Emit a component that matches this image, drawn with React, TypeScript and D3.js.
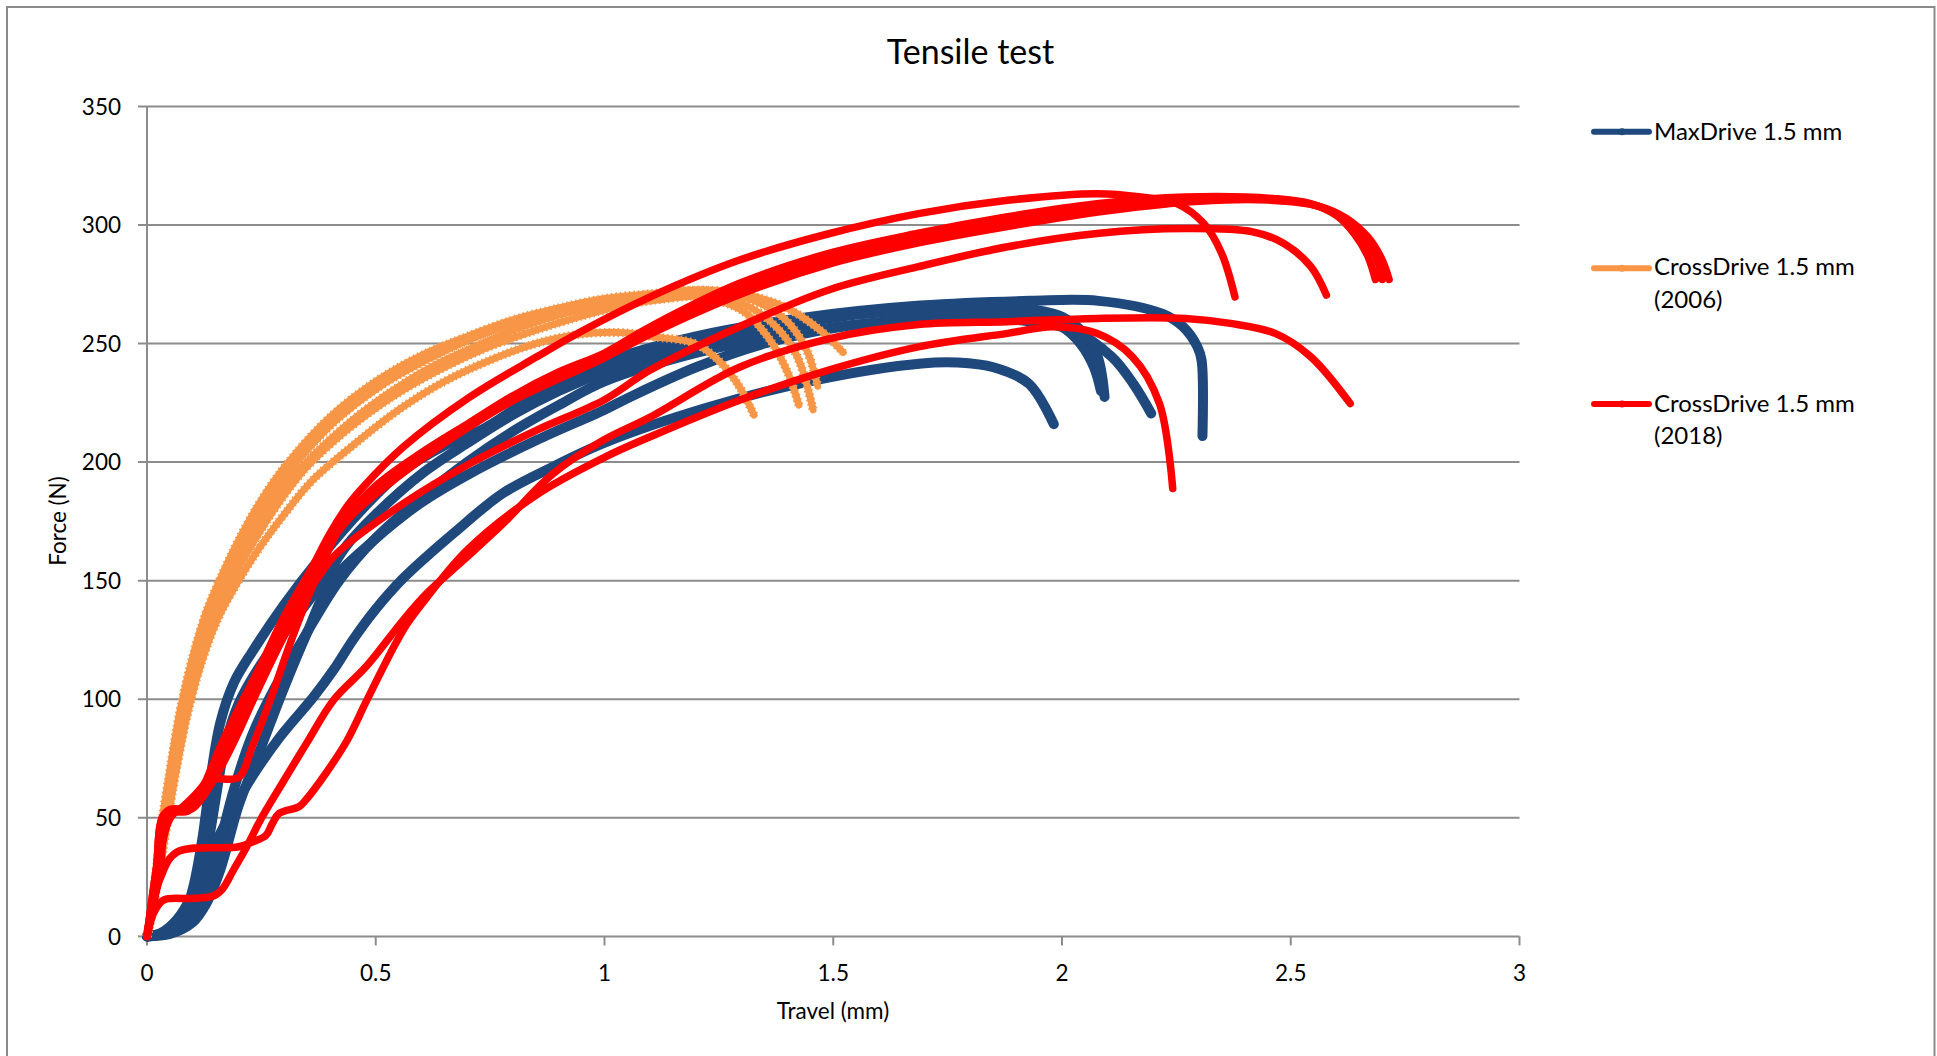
import React from "react";
import * as d3 from "d3";

type Pt = [number, number];

// ---------- data (Travel mm, Force N) ----------
const maxDrive1: Pt[] = [[0,0],[0.04,2],[0.08,9],[0.1,20],[0.12,40],[0.14,68],[0.16,90],[0.19,107],[0.23,120],[0.3,140],[0.38,160],[0.47,180],[0.55,195],[0.65,207],[0.735,214],[0.85,228],[1.0,242],[1.2,253],[1.44,261],[1.69,266],[1.93,268],[2.08,268],[2.22,262.5],[2.265,257],[2.296,248.6],[2.305,243],[2.307,211]];
const maxDrive2: Pt[] = [[0,0],[0.05,2],[0.09,8],[0.11,18],[0.13,35],[0.15,58],[0.17,80],[0.2,98],[0.25,115],[0.3,128],[0.386,150],[0.437,165],[0.5,178],[0.6,195],[0.7,208],[0.8,220],[0.9,230],[1.0,238],[1.2,250],[1.35,256],[1.515,261.3],[1.672,264.1],[1.828,265.5],[1.945,264.1],[2.0,261.3],[2.047,254.4],[2.078,244.4],[2.093,227.5]];
const maxDrive3: Pt[] = [[0,0],[0.05,1],[0.1,6],[0.13,14],[0.16,28],[0.2,55],[0.25,80],[0.3,105],[0.35,128],[0.4,148.9],[0.488,165.7],[0.597,182.6],[0.706,195.2],[0.852,209.3],[0.998,221.9],[1.056,227.5],[1.2,240],[1.35,250],[1.515,257],[1.749,260.6],[1.906,259.9],[2.023,255.6],[2.109,244.4],[2.156,233],[2.195,220.5]];
const maxDrive4: Pt[] = [[0,0],[0.06,2],[0.1,8],[0.13,20],[0.16,40],[0.19,62],[0.23,85],[0.28,105],[0.34,125],[0.42,150],[0.5,168],[0.6,185],[0.7,200],[0.8,213],[0.9,224],[1.0,234],[1.2,246],[1.4,254],[1.6,259],[1.8,262],[1.93,261],[2.0,257],[2.04,250],[2.07,240],[2.085,230]];
const maxDrive5: Pt[] = [[0,0],[0.029,1.3],[0.065,7],[0.1,18],[0.13,32],[0.16,43.4],[0.225,65.9],[0.291,84.2],[0.364,101],[0.41,113],[0.45,125],[0.5,138],[0.56,151],[0.67,170],[0.779,187],[0.888,198.1],[0.998,208],[1.225,223],[1.459,234.5],[1.693,241.6],[1.772,242],[1.85,240],[1.928,233],[1.982,216]];

const cross2006a: Pt[] = [[0,0],[0.012,11],[0.026,26],[0.042,45],[0.064,70],[0.09,95],[0.12,116],[0.155,134],[0.2,150],[0.25,165],[0.3,178],[0.36,192],[0.45,207],[0.55,222],[0.65,234],[0.75,243],[0.85,250],[0.95,254],[1.05,254.5],[1.1,253],[1.197,250],[1.256,241.6],[1.295,231.7],[1.327,219.8]];
const cross2006b: Pt[] = [[0,0],[0.011,11],[0.023,26],[0.037,45],[0.057,70],[0.082,95],[0.112,118],[0.145,136],[0.183,152],[0.225,167],[0.275,182],[0.33,196],[0.42,213],[0.52,228],[0.62,240],[0.72,249],[0.82,257],[0.92,263],[1.02,267],[1.12,270],[1.2,270],[1.3,264],[1.36,252],[1.4,238],[1.425,224]];
const cross2006c: Pt[] = [[0,0],[0.012,11],[0.025,26],[0.04,45],[0.06,70],[0.086,95],[0.116,118],[0.15,136],[0.19,152],[0.235,167],[0.285,182],[0.345,197],[0.44,214],[0.54,228],[0.64,239],[0.74,248],[0.84,255],[0.94,261],[1.04,266],[1.14,269],[1.22,270],[1.3,267],[1.37,258],[1.42,245],[1.456,222]];
const cross2006d: Pt[] = [[0,0],[0.01,12],[0.02,28],[0.03,45],[0.05,70],[0.072,95],[0.1,118],[0.13,137],[0.163,152],[0.2,167],[0.25,184],[0.305,199],[0.4,219],[0.5,234],[0.6,245],[0.7,253],[0.8,260],[0.9,265],[1.0,269],[1.1,271],[1.2,272.5],[1.3,270],[1.39,261],[1.44,248],[1.466,232]];
const cross2006e: Pt[] = [[0,0],[0.011,12],[0.022,28],[0.033,45],[0.053,70],[0.076,95],[0.105,118],[0.136,136],[0.172,152],[0.21,166],[0.26,182],[0.315,197],[0.41,217],[0.51,232],[0.61,243],[0.71,252],[0.81,259],[0.91,264],[1.0,267.5],[1.1,270],[1.197,272.5],[1.295,271.1],[1.393,265.5],[1.471,255.7],[1.522,246.2]];

const cross2018a: Pt[] = [[0,0],[0.025,30],[0.05,50],[0.08,55],[0.12,63],[0.17,78],[0.22,97],[0.27,118],[0.32,138],[0.36,155],[0.4,170],[0.44,182],[0.473,189.6],[0.561,206.5],[0.706,227.5],[0.852,244.4],[0.954,255.6],[1.1,269.7],[1.295,285.2],[1.49,296.3],[1.686,304.8],[1.881,310.4],[2.076,313.2],[2.173,311.8],[2.251,309],[2.31,300.6],[2.349,288],[2.378,269.7]];
const cross2018b: Pt[] = [[0,0],[0.03,30],[0.045,53],[0.09,54],[0.12,60],[0.14,66],[0.2,67],[0.23,80],[0.27,100],[0.31,122],[0.35,142],[0.39,160],[0.43,175],[0.5,190],[0.6,204],[0.7,216],[0.8,228],[0.9,238],[1.0,246],[1.1,257.1],[1.295,275.4],[1.49,288],[1.686,296.5],[1.881,303.5],[2.076,309],[2.27,311.8],[2.466,311.1],[2.543,309],[2.6,304],[2.64,296],[2.668,287],[2.685,277]];
const cross2018c: Pt[] = [[0,0],[0.02,28],[0.04,52],[0.09,53],[0.12,62],[0.16,80],[0.2,96],[0.25,115],[0.3,135],[0.35,152],[0.4,168],[0.45,180],[0.55,196],[0.65,210],[0.8,226],[1.0,244],[1.1,254],[1.3,271],[1.5,284],[1.7,293],[1.9,300],[2.1,306],[2.3,310],[2.45,310.5],[2.56,308],[2.62,303],[2.668,295],[2.698,286],[2.715,277]];
const cross2018g: Pt[] = [[0,0],[0.02,28],[0.04,52],[0.09,53],[0.12,61],[0.15,72],[0.2,92],[0.25,112],[0.3,132],[0.35,150],[0.4,166],[0.45,178],[0.55,194],[0.65,208],[0.8,226],[1.0,245],[1.1,255],[1.3,273],[1.5,286],[1.7,295],[1.9,302],[2.1,307.5],[2.3,311],[2.45,311],[2.55,308.5],[2.61,303.5],[2.655,296],[2.685,287],[2.7,277]];
const cross2018d: Pt[] = [[0,0],[0.02,20],[0.04,45],[0.06,52],[0.1,54],[0.14,64],[0.19,82],[0.24,103],[0.29,123],[0.34,141],[0.38,153],[0.415,161.5],[0.561,182.6],[0.706,199.4],[0.852,213.5],[0.998,226.1],[1.1,238.8],[1.295,257.1],[1.49,272.6],[1.686,282.4],[1.881,290.8],[2.076,296.4],[2.27,298.5],[2.417,297.1],[2.485,292.2],[2.544,282.4],[2.578,270.4]];
const cross2018e: Pt[] = [[0,0],[0.015,10],[0.036,15.3],[0.1,16],[0.145,17],[0.165,20],[0.189,28],[0.218,37.8],[0.248,49.1],[0.291,63.1],[0.349,81.5],[0.408,99.7],[0.48,114],[0.56,133.4],[0.612,144.7],[0.692,158.7],[0.779,174.2],[0.888,195.2],[0.998,209.3],[1.1,219],[1.295,240],[1.49,252],[1.686,258],[1.881,259.2],[2.076,260.6],[2.27,260.6],[2.368,258.5],[2.466,254.3],[2.544,244.4],[2.63,224.7]];
const cross2018f: Pt[] = [[0,0],[0.03,25],[0.065,35.5],[0.2,37.8],[0.233,40],[0.26,42.6],[0.274,47.6],[0.289,51.9],[0.332,54.7],[0.347,57.5],[0.391,68.8],[0.437,82.5],[0.48,99.4],[0.539,121.9],[0.568,131.7],[0.612,143],[0.7,163],[0.85,186],[1.0,202],[1.1,210.7],[1.295,226.1],[1.49,238.8],[1.686,248.6],[1.881,254.3],[1.979,257.1],[2.076,254.3],[2.154,244.4],[2.213,224.7],[2.242,188.9]];

const seriesNames = ["MaxDrive 1.5 mm", "CrossDrive 1.5 mm (2006)", "CrossDrive 1.5 mm (2018)"];
const legendLines = [["MaxDrive 1.5 mm"], ["CrossDrive 1.5 mm", "(2006)"], ["CrossDrive 1.5 mm", "(2018)"]];
const seriesTests: Pt[][][] = [
  [maxDrive1, maxDrive2, maxDrive3, maxDrive4, maxDrive5],
  [cross2006a, cross2006b, cross2006c, cross2006d, cross2006e],
  [cross2018a, cross2018b, cross2018c, cross2018g, cross2018d, cross2018e, cross2018f],
];
const seriesColors = ["#1F497D", "#F79646", "#FF0000"];
const xTicks = [0, 0.5, 1, 1.5, 2, 2.5, 3];
const yTicks = [0, 50, 100, 150, 200, 250, 300, 350];

const FONT = "Lato, 'Open Sans', sans-serif";

export default function App() {
  const W = 1937, H = 1056;
  const x = d3.scaleLinear().domain([0, 3]).range([147, 1519.5]);
  const y = d3.scaleLinear().domain([0, 350]).range([936.4, 106.4]);
  const line = d3.line<Pt>().x(d => x(d[0])).y(d => y(d[1])).curve(d3.curveCatmullRom.alpha(0.5));
  const grid = "#8C8C8C";
  const widths = [10, 7, 7.5];

  const legendRows = [
    { lineY: 131.7, base: [140] },
    { lineY: 268.3, base: [275, 308] },
    { lineY: 404, base: [411.7, 444.3] },
  ];

  return (
    <svg width={W} height={H} style={{ position: "absolute", left: 0, top: 0, background: "#fff" }}>
      <rect x={7} y={7} width={1927.5} height={1060} fill="#fff" stroke="#8a8a8a" strokeWidth={2} />
      <text x={970.5} y={64} textAnchor="middle" fontFamily={FONT} fontSize={34} fill="#000">Tensile test</text>

      {/* gridlines */}
      {yTicks.filter(t => t > 0).map(t => (
        <line key={"g" + t} x1={138} x2={1519.5} y1={y(t)} y2={y(t)} stroke={grid} strokeWidth={2} />
      ))}
      {/* y axis */}
      <line x1={147} x2={147} y1={y(350)} y2={y(0)} stroke={grid} strokeWidth={2} />
      <line x1={138} x2={147} y1={y(0)} y2={y(0)} stroke={grid} strokeWidth={2} />
      {/* x axis */}
      <line x1={147} x2={1519.5} y1={y(0)} y2={y(0)} stroke={grid} strokeWidth={2} />
      {xTicks.map(t => (
        <line key={"xt" + t} x1={x(t)} x2={x(t)} y1={y(0)} y2={y(0) + 9} stroke={grid} strokeWidth={2} />
      ))}
      {yTicks.map(t => (
        <text key={"yl" + t} x={121} y={y(t)} dy="0.36em" textAnchor="end" fontFamily={FONT} fontSize={22.5} fill="#000">{t}</text>
      ))}
      {xTicks.map(t => (
        <text key={"xl" + t} x={x(t)} y={980.7} textAnchor="middle" fontFamily={FONT} fontSize={22.5} fill="#000">{String(t)}</text>
      ))}
      <text x={833} y={1019} textAnchor="middle" fontFamily={FONT} fontSize={22.5} fill="#000">Travel (mm)</text>
      <text transform="translate(66,521) rotate(-90)" textAnchor="middle" fontFamily={FONT} fontSize={22.5} fill="#000">Force (N)</text>

      {/* series */}
      {seriesTests.map((tests, si) => (
        <g key={"s" + si}>
          {tests.map((pts, ti) => (
            <g key={"t" + ti}>
              {si === 1 && (
                <path d={line(pts) || ""} fill="none" stroke={seriesColors[si]} strokeWidth={9} strokeDasharray="1.5 3" />
              )}
              <path d={line(pts) || ""} fill="none" stroke={seriesColors[si]} strokeWidth={widths[si]} strokeLinejoin="round" strokeLinecap="round" />
            </g>
          ))}
        </g>
      ))}

      {/* legend */}
      {seriesNames.map((name, i) => (
        <g key={"lg" + i}>
          <line x1={1594} x2={1649} y1={legendRows[i].lineY} y2={legendRows[i].lineY} stroke={seriesColors[i]} strokeWidth={6} strokeLinecap="round" />
          <circle cx={1622} cy={legendRows[i].lineY} r={3.5} fill={seriesColors[i]} />
          {legendLines[i].map((txt, k) => (
            <text key={k} x={1654} y={legendRows[i].base[k]} fontFamily={FONT} fontSize={24} fill="#000">{txt}</text>
          ))}
        </g>
      ))}
    </svg>
  );
}
